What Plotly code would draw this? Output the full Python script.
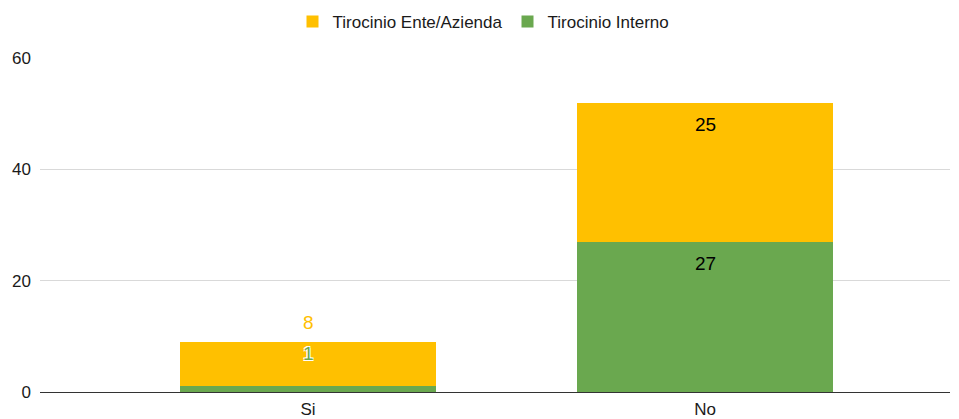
import plotly.graph_objects as go

categories = ["Si", "No"]
interno = [1, 27]
ente = [8, 25]
series_names = ["Tirocinio Interno", "Tirocinio Ente/Azienda"]
y_ticks = [0, 20, 40, 60]

GREEN = "#6aa84f"
YELLOW = "#ffc000"
FONT = "Liberation Sans, Arial, sans-serif"

# page body has an 8px margin, so the figure is drawn 8px smaller and offset
W, H = 951, 411

fig = go.Figure()
fig.add_trace(go.Bar(x=categories, y=interno, name=series_names[0], marker_color=GREEN,
                     marker_line_width=0, width=0.647, hoverinfo="y"))
fig.add_trace(go.Bar(x=categories, y=ente, name=series_names[1], marker_color=YELLOW,
                     marker_line_width=0, width=0.647, hoverinfo="y"))

totals = [a + b for a, b in zip(interno, ente)]
outline = "1px 1px 0px white, -1px -1px 0px white, 1px -1px 0px white, -1px 1px 0px white"
fig.add_annotation(x=categories[0], y=totals[0], text=str(ente[0]), showarrow=False,
                   yanchor="middle", yshift=19,
                   font=dict(family=FONT, size=19, color=YELLOW, shadow=outline))
fig.add_annotation(x=categories[0], y=totals[0], text=str(interno[0]), showarrow=False,
                   yanchor="middle", yshift=-12,
                   font=dict(family=FONT, size=19, color=GREEN, shadow=outline))
fig.add_annotation(x=categories[1], y=totals[1], text=str(ente[1]), showarrow=False,
                   yanchor="middle", yshift=-22,
                   font=dict(family=FONT, size=19, color="#000000"))
fig.add_annotation(x=categories[1], y=interno[1], text=str(interno[1]), showarrow=False,
                   yanchor="middle", yshift=-22,
                   font=dict(family=FONT, size=19, color="#000000"))

fig.update_layout(
    barmode="stack",
    width=W, height=H,
    margin=dict(l=32, r=9, t=50, b=27, autoexpand=False),
    plot_bgcolor="white", paper_bgcolor="white",
    font=dict(family=FONT, size=17, color="#1a1a1a"),
    legend=dict(orientation="h", x=0.5, xanchor="center", xref="container",
                y=(H - 14) / H, yanchor="middle",
                yref="container", traceorder="reversed",
                font=dict(size=17, color="#1a1a1a")),
    showlegend=True,
    bargap=0,
)
fig.update_xaxes(range=[-0.675, 1.617], showgrid=False, showline=False, ticks="",
                 automargin=False, ticklabelstandoff=5,
                 tickfont=dict(size=17, color="#1a1a1a"))
fig.update_yaxes(range=[0, 60], tickvals=y_ticks, showgrid=True, gridcolor="#d9d9d9",
                 zeroline=True, zerolinecolor="#333333", zerolinewidth=1,
                 automargin=False, ticks="", ticklabelstandoff=8,
                 tickfont=dict(size=17, color="#1a1a1a"))

fig.write_html("out.html")
